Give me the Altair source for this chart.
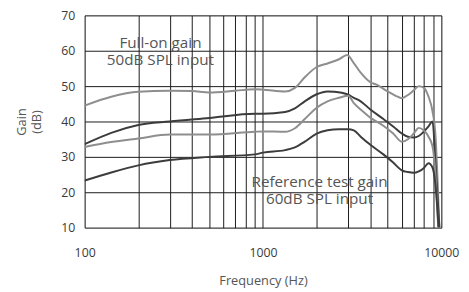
import altair as alt
import pandas as pd

# frequencies (Hz) and gain (dB)
f_top = [100, 141, 200, 300, 400, 500, 700, 900, 1000, 1330, 1510, 1715, 2000, 2300, 2670, 2960, 3230, 3530, 4000, 4330, 5000, 5580, 6000, 6500, 7000, 7470, 7960, 8475, 8920, 9270, 9550, 9750]
g_top = [44.5, 47.0, 48.4, 48.7, 48.6, 48.2, 48.7, 49.1, 49.0, 48.5, 49.5, 52.5, 55.4, 56.4, 57.6, 58.8, 56.5, 53.8, 51.1, 50.4, 48.5, 47.2, 46.6, 47.5, 48.8, 50.0, 49.6, 47.0, 42.9, 36.0, 22.0, 10.0]

f_dk1 = [100, 141, 200, 300, 500, 900, 1000, 1330, 1510, 1715, 2000, 2300, 2500, 2960, 3230, 3530, 4000, 4730, 5370, 6000, 6500, 7000, 7470, 7960, 8475, 8920, 9300, 9750]
g_dk1 = [33.6, 36.8, 39.0, 40.0, 41.0, 42.2, 42.2, 42.7, 43.7, 45.7, 47.7, 48.5, 48.4, 47.7, 46.7, 45.7, 43.4, 40.7, 38.6, 36.6, 35.7, 35.5, 35.9, 37.1, 38.6, 40.0, 27.0, 10.0]

f_gy2 = [100, 141, 200, 300, 500, 900, 1000, 1330, 1510, 1715, 2000, 2300, 2670, 3000, 3230, 3530, 4000, 4730, 5370, 6000, 6500, 7000, 7470, 7960, 8475, 8920, 9270, 9600]
g_gy2 = [32.8, 34.2, 35.2, 36.3, 36.3, 37.1, 37.2, 37.1, 38.1, 40.7, 43.9, 45.7, 46.7, 47.3, 45.2, 43.4, 41.1, 38.8, 36.6, 34.3, 35.0, 36.6, 38.2, 37.5, 35.7, 33.0, 25.0, 10.0]

f_dk2 = [100, 141, 200, 300, 500, 900, 1000, 1330, 1510, 1715, 2000, 2300, 2670, 3000, 3230, 3530, 4000, 4730, 5370, 6000, 6500, 7000, 7470, 7960, 8475, 8920, 9270, 9650]
g_dk2 = [23.3, 25.6, 27.6, 29.1, 30.0, 30.7, 31.2, 31.9, 32.7, 34.3, 36.6, 37.5, 37.8, 37.8, 37.5, 35.7, 33.4, 30.7, 28.4, 26.2, 25.7, 25.5, 25.9, 26.8, 28.2, 27.0, 22.0, 10.0]

series = [
    ("full_gray", f_top, g_top, "#8e8e8e"),
    ("full_dark", f_dk1, g_dk1, "#3c3c3c"),
    ("ref_gray", f_gy2, g_gy2, "#8e8e8e"),
    ("ref_dark", f_dk2, g_dk2, "#3c3c3c"),
]

grid_x = [100, 200, 300, 400, 500, 600, 700, 800, 900,
          1000, 2000, 3000, 4000, 5000, 6000, 7000, 8000, 9000, 10000]
grid_y = [10, 20, 30, 40, 50, 60, 70]

notes_text = ["Full-on gain", "50dB SPL input", "Reference test gain", "60dB SPL input"]
notes_f = [266, 266, 2074, 2074]
notes_g = [62.3, 57.4, 23.0, 18.1]

rows = []
for name, fs, gs, col in series:
    for i, (f, g) in enumerate(zip(fs, gs)):
        rows.append({"series": name, "freq": f, "gain": g, "order": i})
df = pd.DataFrame(rows)

xscale = alt.Scale(type="log", domain=[100, 10000])
yscale = alt.Scale(domain=[10, 70])

xaxis = alt.Axis(values=grid_x, format="d", grid=True, gridColor="#1a1a1a", gridWidth=1,
                 gridOpacity=1, ticks=False, domain=False, labelOverlap=False, labelFlush=False,
                 labelExpr="(datum.value == 100 || datum.value == 1000 || datum.value == 10000) ? datum.label : ''",
                 labelPadding=19, labelFontSize=12.5, labelColor="#3a3a3a", labelFont="Open Sans",
                 title="Frequency (Hz)", titleFontSize=13, titleFont="Open Sans",
                 titleFontWeight="normal", titleColor="#555", titlePadding=16)
yaxis = alt.Axis(values=grid_y, grid=True, gridColor="#1a1a1a", gridWidth=1, gridOpacity=1,
                 ticks=False, domain=False, labelPadding=10, labelFontSize=12.5, labelFlush=False,
                 labelOverlap=False, labelColor="#3a3a3a", labelFont="Open Sans",
                 title=["Gain", "(dB)"], titleFontSize=13, titleFont="Open Sans",
                 titleFontWeight="normal", titleColor="#555", titlePadding=18)

layers = []
for name, fs, gs, col in series:
    layers.append(
        alt.Chart(df[df.series == name]).mark_line(
            color=col, strokeWidth=2, interpolate="monotone", clip=True
        ).encode(
            x=alt.X("freq:Q", scale=xscale, axis=xaxis),
            y=alt.Y("gain:Q", scale=yscale, axis=yaxis),
            order="order:Q",
        )
    )

notes = pd.DataFrame({"text": notes_text, "freq": notes_f, "gain": notes_g})
text = alt.Chart(notes).mark_text(
    font="Open Sans", fontSize=15.5, color="#555",
    align="center", baseline="middle"
).encode(
    x=alt.X("freq:Q", scale=xscale, axis=xaxis),
    y=alt.Y("gain:Q", scale=yscale, axis=yaxis),
    text="text:N",
)

chart = alt.layer(*layers, text).properties(
    width=363, height=216,
    autosize=alt.AutoSizeParams(type="none"),
    padding={"left": 78, "top": 5, "right": 20, "bottom": 62},
).configure_view(
    fill="#ececec", stroke="#777", strokeWidth=1.5
).configure(background="white")

chart.save("out.html", embed_options={"renderer": "svg", "actions": False})
